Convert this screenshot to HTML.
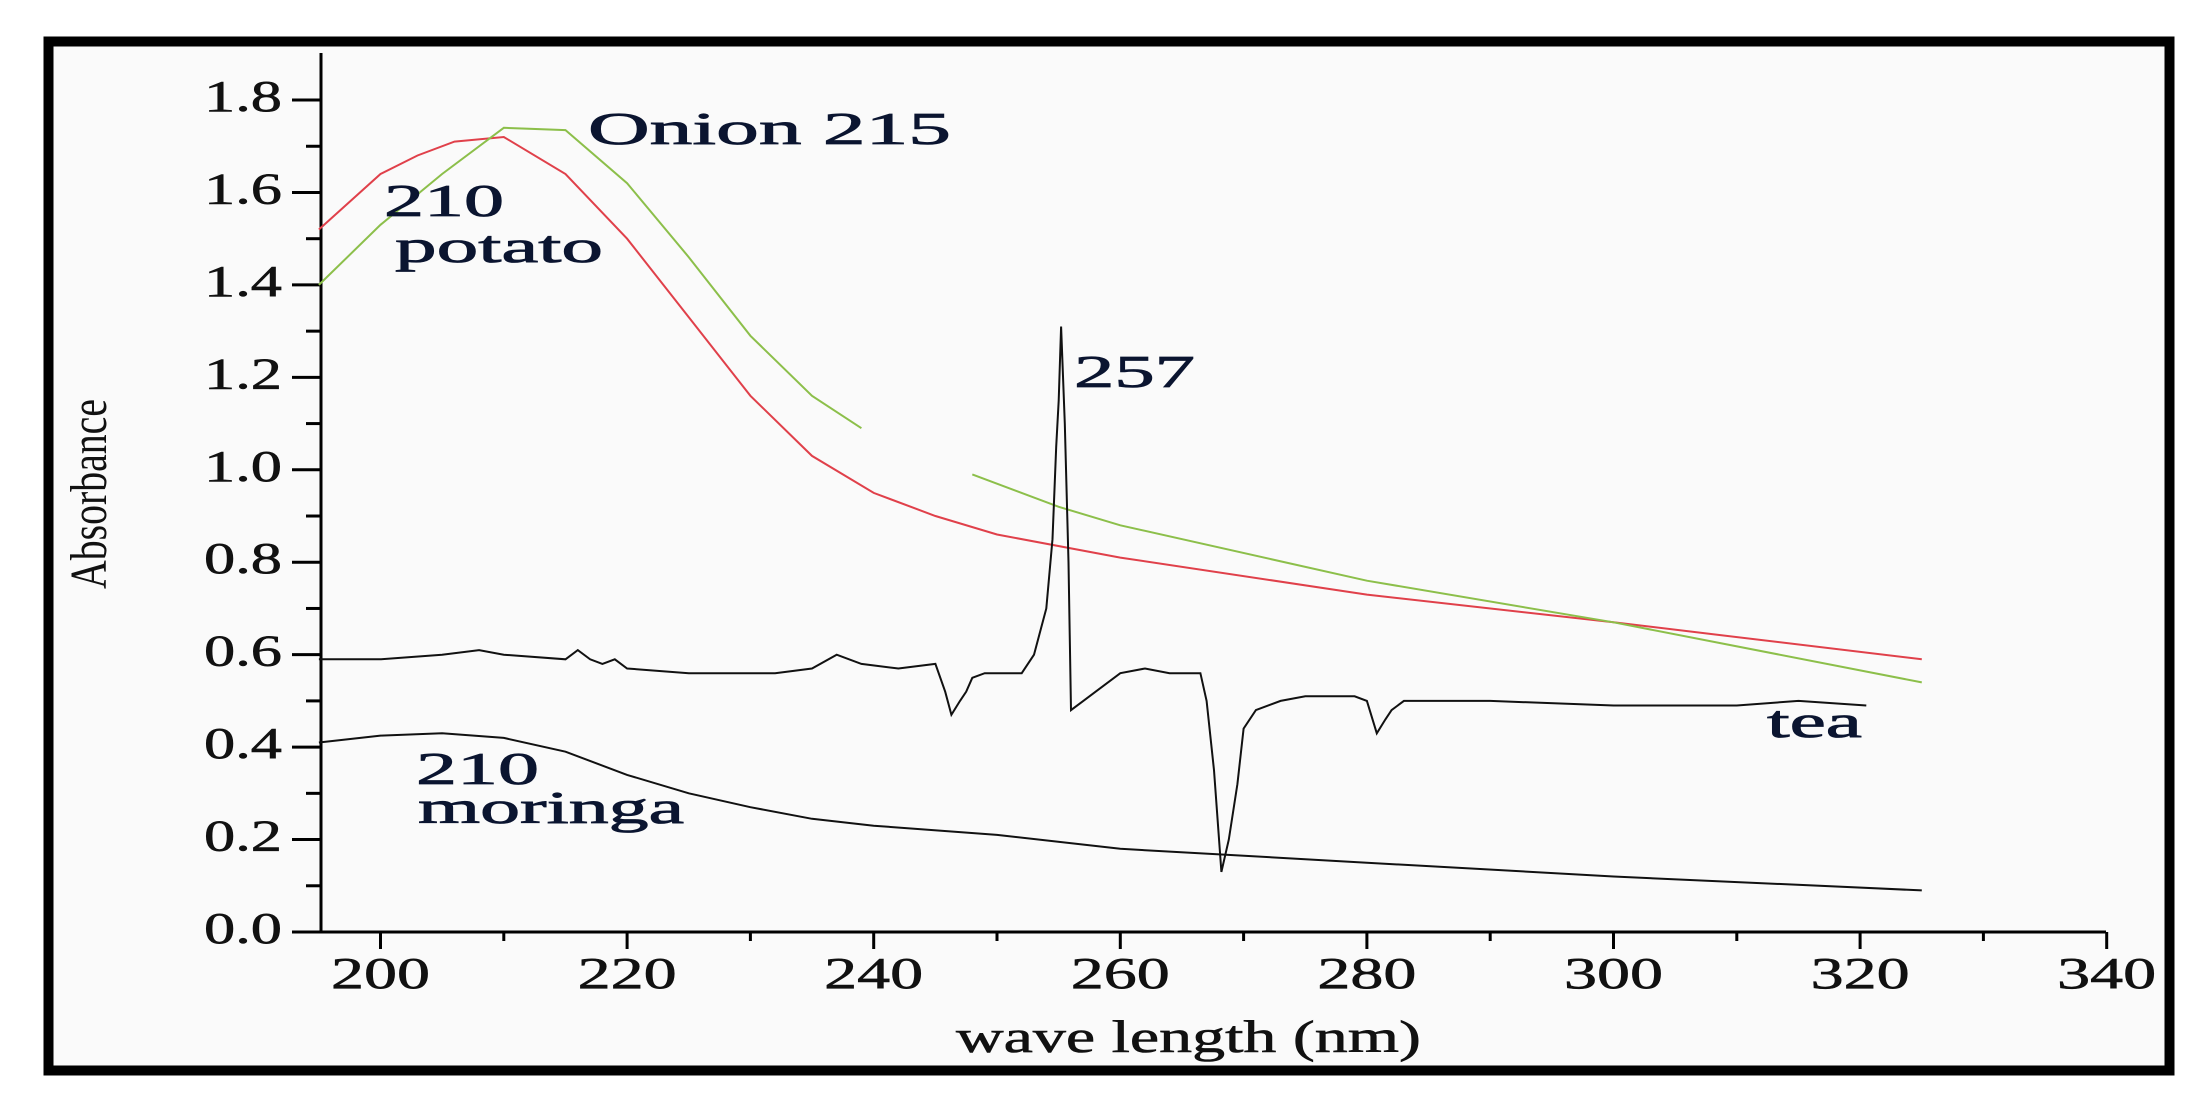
<!DOCTYPE html>
<html><head><meta charset="utf-8"><style>
html,body{margin:0;padding:0;background:#fff;}
svg{display:block}
text{font-family:"Liberation Serif",serif;}
</style></head><body>
<svg id="s" width="2210" height="1117" viewBox="0 0 2210 1117">
<rect x="0" y="0" width="2210" height="1117" fill="#fff"/>
<rect x="48.5" y="41.5" width="2121" height="1029" fill="#fafafa" stroke="#000" stroke-width="10"/>
<g id="ax" stroke="#000" stroke-width="3" fill="none">
<line x1="321" y1="53" x2="321" y2="933"/>
<line x1="320" y1="932" x2="2106" y2="932"/>
</g>
<g id="lbl" font-size="44" fill="#111" stroke="#111" stroke-width="0.6"></g>
<text x="0" y="0" font-size="52" fill="#111" transform="translate(106,494) rotate(-90)" text-anchor="middle" textLength="190" lengthAdjust="spacingAndGlyphs">Absorbance</text>
<text x="956" y="1052" font-size="46" fill="#111" stroke="#111" stroke-width="0.6" textLength="465" lengthAdjust="spacingAndGlyphs">wave length (nm)</text>
<g id="data" fill="none" stroke-width="2"></g>
<g font-size="46" fill="#0b1530" stroke="#0b1530" stroke-width="0.8" lengthAdjust="spacingAndGlyphs">
<text x="588" y="144" textLength="363" lengthAdjust="spacingAndGlyphs">Onion  215</text>
<text x="384" y="216" textLength="120" lengthAdjust="spacingAndGlyphs">210</text>
<text x="395" y="262" textLength="208" lengthAdjust="spacingAndGlyphs">potato</text>
<text x="1074" y="387" textLength="121" lengthAdjust="spacingAndGlyphs">257</text>
<text x="1767" y="737" textLength="95" lengthAdjust="spacingAndGlyphs">tea</text>
<text x="416" y="784" textLength="123" lengthAdjust="spacingAndGlyphs">210</text>
<text x="418" y="823" textLength="266" lengthAdjust="spacingAndGlyphs">moringa</text>
</g>
</svg>
<script>
var X=function(w){return 380.5+(w-200)*12.33;};
var Y=function(a){return 932-a*462.2;};
var NS="http://www.w3.org/2000/svg";
var ax=document.getElementById('ax'),lbl=document.getElementById('lbl'),dg=document.getElementById('data');
function ln(x1,y1,x2,y2){var l=document.createElementNS(NS,'line');l.setAttribute('x1',x1);l.setAttribute('y1',y1);l.setAttribute('x2',x2);l.setAttribute('y2',y2);ax.appendChild(l);}
function tx(x,y,s,anc,len){var t=document.createElementNS(NS,'text');t.setAttribute('x',x);t.setAttribute('y',y);t.setAttribute('text-anchor',anc);t.setAttribute('textLength',len);t.setAttribute('lengthAdjust','spacingAndGlyphs');t.textContent=s;lbl.appendChild(t);}
for(var i=0;i<=18;i++){var y=Y(i/10);if(i%2==0){ln(292,y,321,y);tx(282,y+11,(i/10).toFixed(1),'end',78);}else ln(306,y,321,y);}
for(var w=200;w<=340;w+=10){var x=X(w);if(w%20==0){ln(x,932,x,949);tx(x,988,String(w),'middle',99);}else ln(x,932,x,941);}
function path(pts,col){var d='';for(var i=0;i<pts.length;i+=2)d+=(i?'L':'M')+X(pts[i]).toFixed(1)+' '+Y(pts[i+1]).toFixed(1);var p=document.createElementNS(NS,'path');p.setAttribute('d',d);p.setAttribute('stroke',col);dg.appendChild(p);}
path([195,1.52,200,1.64,203,1.68,206,1.71,210,1.72,215,1.64,220,1.50,225,1.33,230,1.16,235,1.03,240,0.95,245,0.90,250,0.86,260,0.81,280,0.73,300,0.67,325,0.59],'#e0404a');
path([195,1.40,200,1.53,205,1.64,210,1.74,215,1.735,220,1.62,225,1.46,230,1.29,235,1.16,239,1.09],'#8cbf4a');
path([248,0.99,255,0.92,260,0.88,280,0.76,300,0.67,325,0.54],'#8cbf4a');
path([195,0.59,200,0.59,205,0.60,208,0.61,210,0.60,215,0.59,216,0.61,217,0.59,218,0.58,219,0.59,220,0.57,225,0.56,232,0.56,235,0.57,237,0.60,239,0.58,242,0.57,245,0.58,245.8,0.52,246.3,0.47,247,0.50,247.5,0.52,248,0.55,249,0.56,252,0.56,253,0.60,254,0.70,254.5,0.85,254.8,1.05,255,1.15,255.2,1.31,255.5,1.10,255.8,0.80,256,0.48,257,0.50,258,0.52,260,0.56,262,0.57,264,0.56,266.5,0.56,267,0.50,267.6,0.35,268.2,0.13,268.8,0.20,269.5,0.32,270,0.44,271,0.48,273,0.50,275,0.51,279,0.51,280,0.50,280.8,0.43,281.5,0.46,282,0.48,283,0.50,290,0.50,300,0.49,310,0.49,315,0.50,320.5,0.49],'#111');
path([195,0.41,200,0.425,205,0.43,210,0.42,215,0.39,220,0.34,225,0.30,230,0.27,235,0.245,240,0.23,250,0.21,260,0.18,280,0.15,300,0.12,325,0.09],'#111');
</script>
</body></html>
